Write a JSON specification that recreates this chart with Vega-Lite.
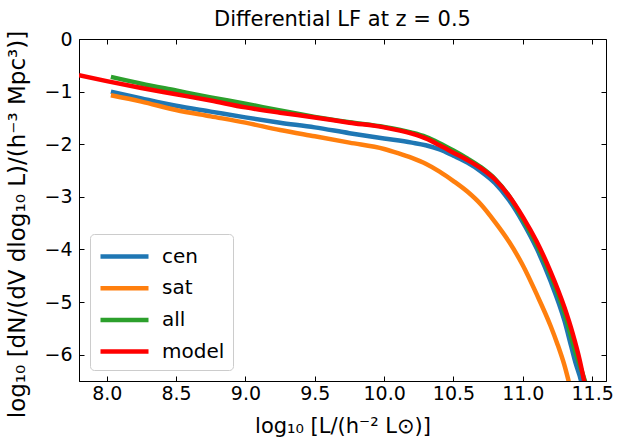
{
  "$schema": "https://vega.github.io/schema/vega-lite/v6.json",
  "width": 527,
  "height": 342,
  "autosize": {"type": "none"},
  "padding": {"left": 79, "top": 39, "right": 17, "bottom": 56},
  "title": {"text": "Differential LF at z = 0.5", "fontSize": 21, "font": "DejaVu Sans", "fontWeight": "normal", "color": "black", "offset": 0, "frame": "group"},
  "config": {
    "font": "DejaVu Sans",
    "view": {"stroke": "black", "strokeWidth": 1},
    "axis": {
      "grid": false,
      "domainColor": "black",
      "tickColor": "black",
      "tickSize": -5,
      "labelColor": "black",
      "labelFontSize": 19,
      "labelFont": "DejaVu Sans",
      "labelFlush": false,
      "labelOverlap": false,
      "titleColor": "black",
      "titleFont": "DejaVu Sans",
      "titleFontSize": 21,
      "titleFontWeight": "normal"
    }
  },
  "data": {
    "values": [
      {"s": "cen", "x": 8.03, "y": -1.0},
      {"s": "cen", "x": 8.25, "y": -1.13},
      {"s": "cen", "x": 8.5, "y": -1.27},
      {"s": "cen", "x": 8.75, "y": -1.38},
      {"s": "cen", "x": 9.0, "y": -1.49},
      {"s": "cen", "x": 9.25, "y": -1.59},
      {"s": "cen", "x": 9.5, "y": -1.68},
      {"s": "cen", "x": 9.75, "y": -1.79},
      {"s": "cen", "x": 10.0, "y": -1.89},
      {"s": "cen", "x": 10.2, "y": -1.97},
      {"s": "cen", "x": 10.3, "y": -2.02},
      {"s": "cen", "x": 10.4, "y": -2.1},
      {"s": "cen", "x": 10.5, "y": -2.22},
      {"s": "cen", "x": 10.6, "y": -2.35},
      {"s": "cen", "x": 10.7, "y": -2.52},
      {"s": "cen", "x": 10.8, "y": -2.74},
      {"s": "cen", "x": 10.9, "y": -3.06},
      {"s": "cen", "x": 11.0, "y": -3.48},
      {"s": "cen", "x": 11.1, "y": -3.98},
      {"s": "cen", "x": 11.2, "y": -4.6},
      {"s": "cen", "x": 11.3, "y": -5.35},
      {"s": "cen", "x": 11.35, "y": -5.85},
      {"s": "cen", "x": 11.38, "y": -6.15},
      {"s": "cen", "x": 11.41, "y": -6.4},
      {"s": "cen", "x": 11.43, "y": -6.6},
      {"s": "sat", "x": 8.03, "y": -1.07},
      {"s": "sat", "x": 8.25, "y": -1.19},
      {"s": "sat", "x": 8.5, "y": -1.35},
      {"s": "sat", "x": 8.75, "y": -1.47},
      {"s": "sat", "x": 9.0, "y": -1.59},
      {"s": "sat", "x": 9.25, "y": -1.73},
      {"s": "sat", "x": 9.5, "y": -1.85},
      {"s": "sat", "x": 9.75, "y": -1.97},
      {"s": "sat", "x": 10.0, "y": -2.09},
      {"s": "sat", "x": 10.1, "y": -2.17},
      {"s": "sat", "x": 10.2, "y": -2.26},
      {"s": "sat", "x": 10.3, "y": -2.37},
      {"s": "sat", "x": 10.4, "y": -2.52},
      {"s": "sat", "x": 10.5, "y": -2.7},
      {"s": "sat", "x": 10.6, "y": -2.9},
      {"s": "sat", "x": 10.7, "y": -3.15},
      {"s": "sat", "x": 10.8, "y": -3.48},
      {"s": "sat", "x": 10.9, "y": -3.85},
      {"s": "sat", "x": 11.0, "y": -4.3},
      {"s": "sat", "x": 11.1, "y": -4.85},
      {"s": "sat", "x": 11.2, "y": -5.45},
      {"s": "sat", "x": 11.25, "y": -5.8},
      {"s": "sat", "x": 11.3, "y": -6.2},
      {"s": "sat", "x": 11.34, "y": -6.6},
      {"s": "all", "x": 8.03, "y": -0.72},
      {"s": "all", "x": 8.25, "y": -0.85},
      {"s": "all", "x": 8.5, "y": -0.98},
      {"s": "all", "x": 8.75, "y": -1.11},
      {"s": "all", "x": 9.0, "y": -1.23},
      {"s": "all", "x": 9.25, "y": -1.36},
      {"s": "all", "x": 9.5, "y": -1.48},
      {"s": "all", "x": 9.75, "y": -1.58},
      {"s": "all", "x": 10.0, "y": -1.67},
      {"s": "all", "x": 10.2, "y": -1.78},
      {"s": "all", "x": 10.3, "y": -1.86},
      {"s": "all", "x": 10.4, "y": -1.98},
      {"s": "all", "x": 10.5, "y": -2.12},
      {"s": "all", "x": 10.6, "y": -2.27},
      {"s": "all", "x": 10.7, "y": -2.44},
      {"s": "all", "x": 10.8, "y": -2.66},
      {"s": "all", "x": 10.9, "y": -2.98},
      {"s": "all", "x": 11.0, "y": -3.42},
      {"s": "all", "x": 11.1, "y": -3.9},
      {"s": "all", "x": 11.2, "y": -4.48},
      {"s": "all", "x": 11.3, "y": -5.2},
      {"s": "all", "x": 11.38, "y": -5.95},
      {"s": "all", "x": 11.43, "y": -6.35},
      {"s": "all", "x": 11.46, "y": -6.6},
      {"s": "model", "x": 7.8, "y": -0.69},
      {"s": "model", "x": 8.0, "y": -0.8},
      {"s": "model", "x": 8.25, "y": -0.93},
      {"s": "model", "x": 8.5, "y": -1.05},
      {"s": "model", "x": 8.75, "y": -1.17},
      {"s": "model", "x": 9.0, "y": -1.3},
      {"s": "model", "x": 9.25, "y": -1.4},
      {"s": "model", "x": 9.5, "y": -1.49},
      {"s": "model", "x": 9.75, "y": -1.59},
      {"s": "model", "x": 10.0, "y": -1.68},
      {"s": "model", "x": 10.2, "y": -1.8},
      {"s": "model", "x": 10.3, "y": -1.89},
      {"s": "model", "x": 10.4, "y": -2.02},
      {"s": "model", "x": 10.5, "y": -2.16},
      {"s": "model", "x": 10.6, "y": -2.3},
      {"s": "model", "x": 10.7, "y": -2.46},
      {"s": "model", "x": 10.8, "y": -2.67},
      {"s": "model", "x": 10.9, "y": -2.98},
      {"s": "model", "x": 11.0, "y": -3.38},
      {"s": "model", "x": 11.1, "y": -3.85},
      {"s": "model", "x": 11.2, "y": -4.42},
      {"s": "model", "x": 11.3, "y": -5.1},
      {"s": "model", "x": 11.36, "y": -5.6},
      {"s": "model", "x": 11.41, "y": -6.1},
      {"s": "model", "x": 11.45, "y": -6.6}
    ]
  },
  "layer": [
    {
      "mark": {"type": "point", "opacity": 0},
      "encoding": {
        "x": {"field": "x", "type": "quantitative", "scale": {"domain": [7.8, 11.6], "nice": false, "zero": false},
              "axis": {"orient": "top", "labels": false, "title": null, "domain": false, "values": [8, 8.5, 9, 9.5, 10, 10.5, 11, 11.5]}},
        "y": {"field": "y", "type": "quantitative", "scale": {"domain": [-6.5, 0], "nice": false, "zero": false},
              "axis": {"orient": "right", "labels": false, "title": null, "domain": false, "values": [-6, -5, -4, -3, -2, -1, 0]}}
      }
    },
    {
      "mark": {"type": "line", "strokeWidth": 4.5, "clip": true, "interpolate": "monotone"},
      "encoding": {
        "x": {"field": "x", "type": "quantitative", "scale": {"domain": [7.8, 11.6], "nice": false, "zero": false},
              "axis": {"orient": "bottom", "values": [8, 8.5, 9, 9.5, 10, 10.5, 11, 11.5], "format": ".1f", "labelPadding": 8, "titlePadding": 12, "title": "log₁₀ [L/(h⁻² L⊙)]"}},
        "y": {"field": "y", "type": "quantitative", "scale": {"domain": [-6.5, 0], "nice": false, "zero": false},
              "axis": {"orient": "left", "values": [-6, -5, -4, -3, -2, -1, 0], "format": "d", "labelPadding": 12, "titlePadding": 14, "titleFontSize": 23, "titleY": 185, "title": "log₁₀ [dN/(dV dlog₁₀ L)/(h⁻³ Mpc³)]"}},
        "color": {"field": "s", "type": "nominal", "sort": ["cen", "sat", "all", "model"],
                  "scale": {"domain": ["cen", "sat", "all", "model"], "range": ["#1f77b4", "#ff7f0e", "#2ca02c", "#ff0000"]},
                  "legend": {"orient": "bottom-left", "offset": 11, "title": null, "fillColor": "white", "strokeColor": "#cccccc", "cornerRadius": 4, "padding": 8,
                             "symbolType": "M-2,0H2", "symbolSize": 576, "symbolStrokeWidth": 4.5, "symbolOffset": 12, "labelOffset": 23,
                             "labelFontSize": 20, "labelColor": "black", "labelFont": "DejaVu Sans", "rowPadding": 6.7}}
      }
    }
  ],
  "resolve": {"axis": {"x": "independent", "y": "independent"}}
}
